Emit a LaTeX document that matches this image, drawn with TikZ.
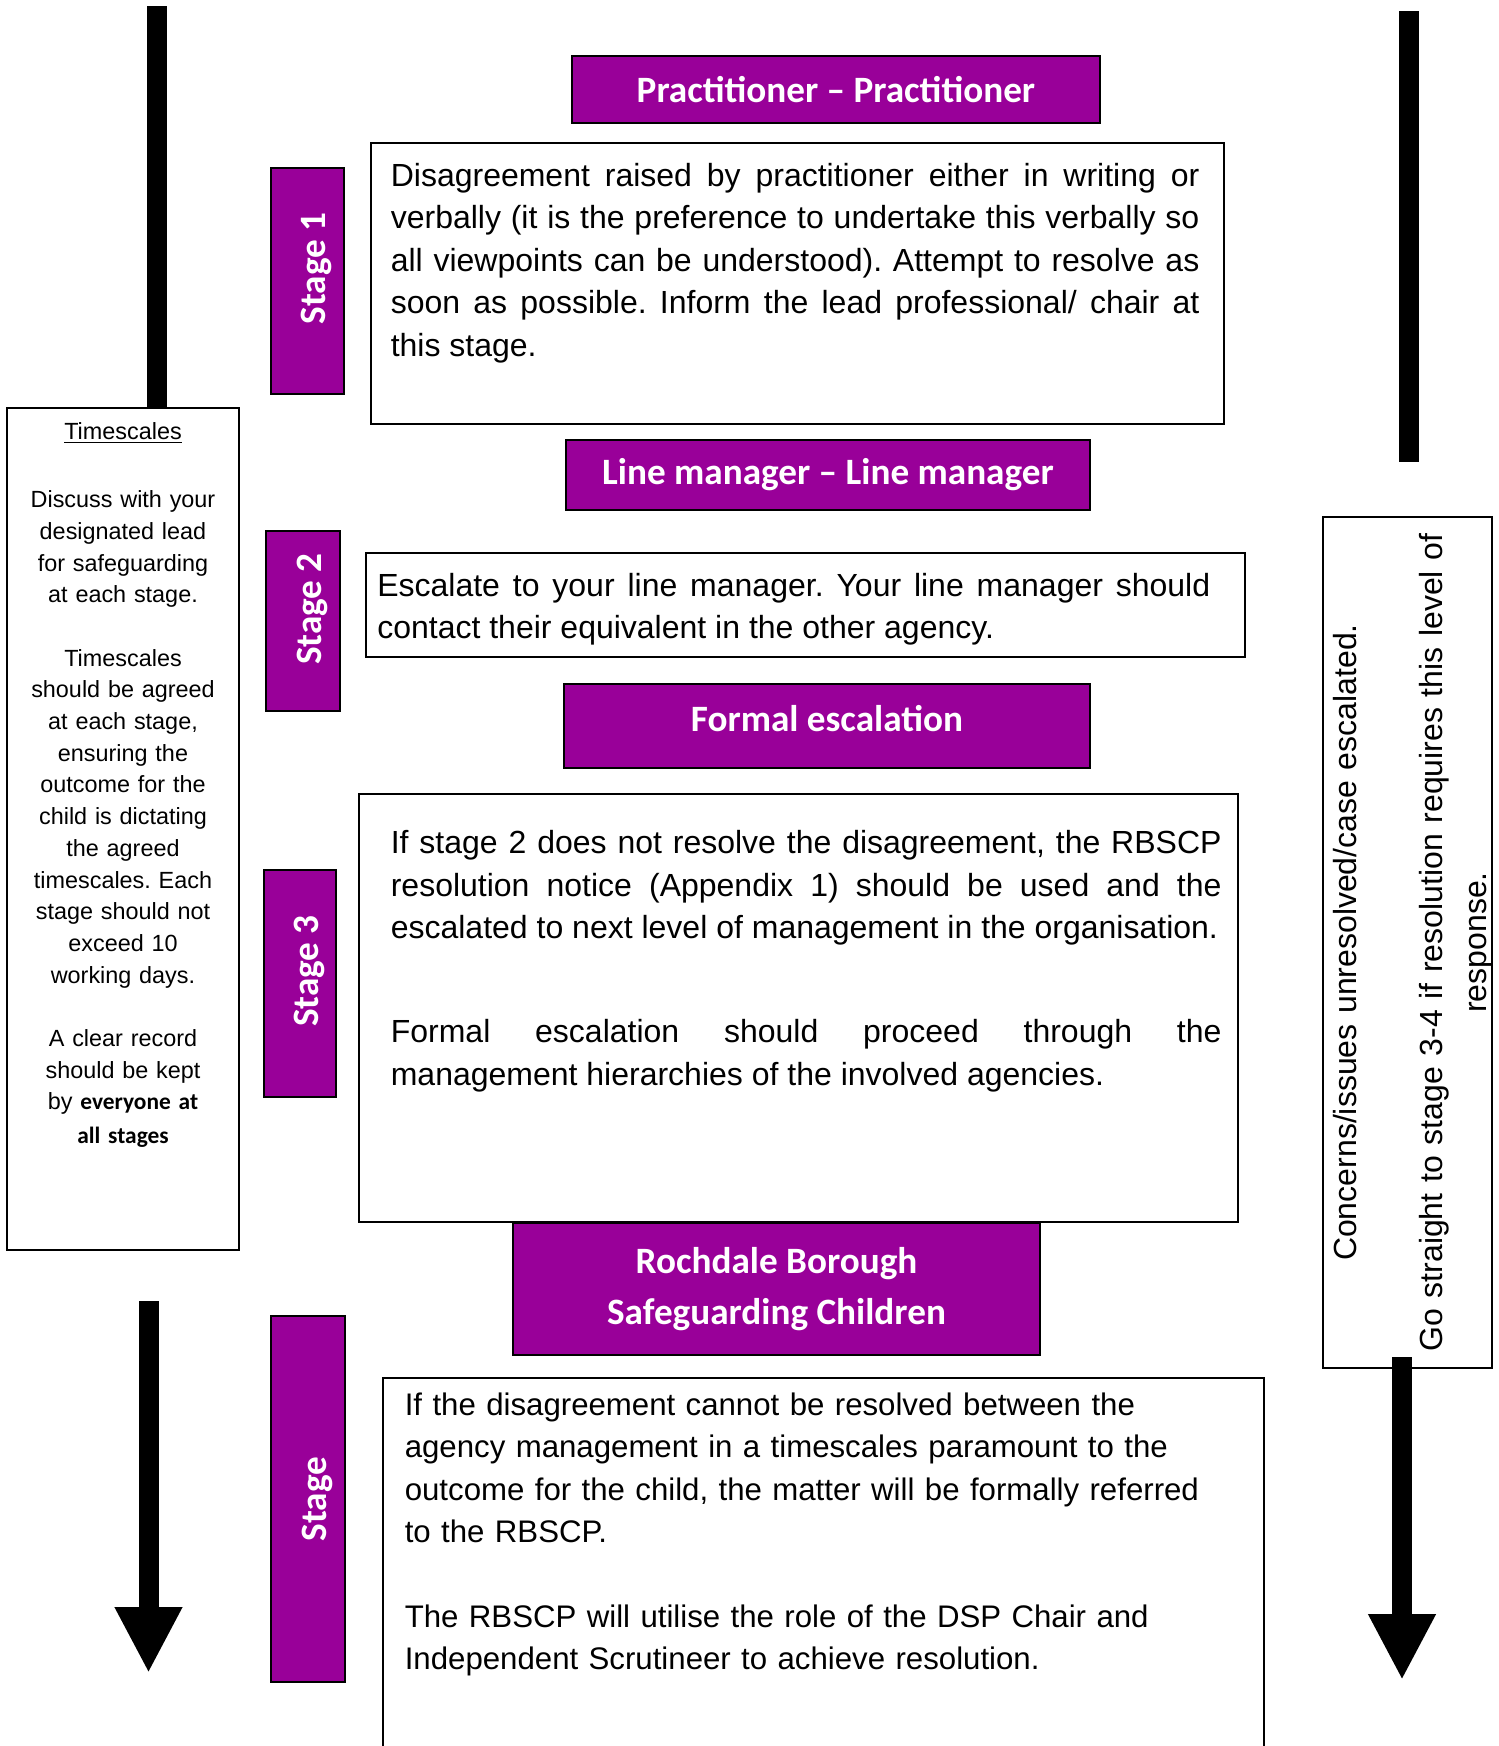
\documentclass[tikz,border=0pt]{standalone}
\usepackage{fontspec}
\setmainfont{Liberation Sans}
\newfontfamily\calibri{Carlito}
\usetikzlibrary{arrows.meta,calc,positioning}
\definecolor{rbscp}{RGB}{153,0,153}
\setlength{\parindent}{0pt}
\frenchspacing

\begin{document}
\begin{tikzpicture}[>={Triangle[width=31.5pt,length=33pt]},x=0.5pt,y=0.5pt,thick]
	\tikzstyle{head_box}=[rectangle,draw=black,line width=1.2pt,fill=rbscp,text=white,inner sep=0pt,align=center,font=\calibri\bfseries\fontsize{18.6}{25.6}\selectfont]
	\tikzstyle{stage_box}=[rectangle,draw=black,line width=1.2pt,fill=rbscp,inner sep=0pt]
	\tikzstyle{stage_label}=[rotate=90,text=white,inner sep=0pt,font=\calibri\bfseries\fontsize{18.6}{22}\selectfont]
	\tikzstyle{text_box}=[rectangle,draw=black,line width=1pt,inner sep=0pt]
	\tikzstyle{body}=[inner sep=0pt,font=\fontsize{16}{21.2}\selectfont]
	\tikzstyle{shaft}=[line width=10pt]

	\useasboundingbox (0,0) rectangle (1499,-1746);
	\clip (0,0) rectangle (1499,-1746);

	% stage 1
	\node[head_box,minimum width=264pt,minimum height=33.5pt] (prac) at (836,-89.5) {Practitioner – Practitioner};
	\node[text_box,minimum width=426.5pt,minimum height=140.5pt] (box_one) at (797.5,-283.5) {};
	\node[body,text width=404.3pt,align=justify] (box_one_text) [below right=10.3pt and 10pt of box_one.north west]
		{Disagreement raised by practitioner either in writing or\linebreak
		verbally (it is the preference to undertake this verbally so\linebreak
		all viewpoints can be understood). Attempt to resolve as\linebreak
		soon as possible. Inform the lead professional/ chair at\linebreak
		this stage.};
	\node[stage_box,minimum width=36.5pt,minimum height=113pt] (stage_one) at (307.5,-281) {};
	\node[stage_label] (stage_one_text) at ($(stage_one)+(9,12.5)$) {Stage 1};

	% stage 2
	\node[head_box,minimum width=262pt,minimum height=35pt] (line_mgr) at (828,-475) {Line manager – Line manager};
	\node[text_box,minimum width=439.5pt,minimum height=52pt] (box_two) at (805.5,-605) {};
	\node[body,text width=416.5pt,align=justify] (box_two_text) [below right=10.3pt and 5.75pt of box_two.north west]
		{Escalate to your line manager. Your line manager should\linebreak
		contact their equivalent in the other agency.};
	\node[stage_box,minimum width=37pt,minimum height=90pt] (stage_two) at (303,-621) {};
	\node[stage_label] (stage_two_text) at ($(stage_two)+(9,12)$) {Stage 2};

	% stage 3
	\node[head_box,minimum width=263pt,minimum height=42pt,text depth=8pt] (formal) at (827,-726) {Formal escalation};
	\node[text_box,minimum width=439.5pt,minimum height=214pt] (box_three) at (798.5,-1008) {};
	\node[body,text width=415.4pt,align=justify] (box_three_text) [below right=18.3pt and 16pt of box_three.north west]
		{If stage 2 does not resolve the disagreement, the RBSCP\linebreak
		resolution notice (Appendix 1) should be used and the\linebreak
		escalated to next level of management in the organisation.\par\vspace{31pt}
		Formal escalation should proceed through the\linebreak
		management hierarchies of the involved agencies.};
	\node[stage_box,minimum width=36pt,minimum height=113.5pt] (stage_three) at (300,-983.5) {};
	\node[stage_label] (stage_three_text) at ($(stage_three)+(9,12.5)$) {Stage 3};

	% stage 4
	\node[head_box,minimum width=263.5pt,minimum height=66pt] (rbscp) at (776.5,-1289) {Rochdale Borough\\Safeguarding Children};
	\node[text_box,minimum width=440.5pt,minimum height=196pt] (box_four) at (823.5,-1574) {};
	\node[body,text width=420pt,align=left,font=\fontsize{15.6}{21.2}\selectfont] (box_four_text) [below right=7.5pt and 11pt of box_four.north west]
		{If the disagreement cannot be resolved between the\\
		agency management in a timescales paramount to the\\
		outcome for the child, the matter will be formally referred\\
		to the RBSCP.\par\vspace{21.2pt}
		The RBSCP will utilise the role of the DSP Chair and\\
		Independent Scrutineer to achieve resolution.};
	\node[stage_box,minimum width=37pt,minimum height=183pt] (stage_four) at (308,-1499) {};
	\node[stage_label] (stage_four_text) at ($(stage_four)+(9,0)$) {Stage};

	% side notes
	\node[text_box,minimum width=116pt,minimum height=421pt] (tscale) at (123,-829) {};
	\node[inner sep=0pt,text width=112pt,align=center,font=\fontsize{11.7}{15.85}\selectfont] (tscale_text) [below=7.5pt of tscale.north]
		{\underline{Timescales}\par\vspace{18.1pt}
		Discuss with your\\ designated lead\\ for safeguarding\\ at each stage.\par\vspace{15.85pt}
		Timescales\\ should be agreed\\ at each stage,\\ ensuring the\\ outcome for the\\ child is dictating\\ the agreed\\ timescales. Each\\ stage should not\\ exceed 10\\ working days.\par\vspace{15.85pt}
		A clear record\\ should be kept\\ by {\calibri\bfseries everyone at}\\[1pt] {\calibri\bfseries all stages}};
	\node[text_box,minimum width=84.5pt,minimum height=425.5pt] (side_note) at (1407.5,-942.5) {};
	\node[rotate=90,inner sep=0pt,text width=420pt,align=center,font=\fontsize{16}{21.7}\selectfont] (side_note_text) at ($(side_note)+(5.5,0)$)
		{Concerns/issues unresolved/case escalated.\par\vspace{21.7pt}
		Go straight to stage 3-4 if resolution requires this level of\\ response.};

	% arrows
	\coordinate (left_top) at (157,-6);
	\coordinate (right_top) at (1409,-11);
	\coordinate (right_top_end) at (1409,-462);
	\coordinate (left_bottom) at (148.5,-1301);
	\coordinate (left_tip) at (148.5,-1673);
	\coordinate (right_tip) at (1402,-1680);
	\draw[shaft] (left_top) -- (left_top |- tscale.north);
	\draw[shaft] (right_top) -- (right_top_end);
	\draw[shaft,->] (left_bottom) -- (left_tip);
	\draw[shaft,->] ($(side_note.south -| right_tip)+(0,12)$) -- (right_tip);
\end{tikzpicture}
\end{document}
